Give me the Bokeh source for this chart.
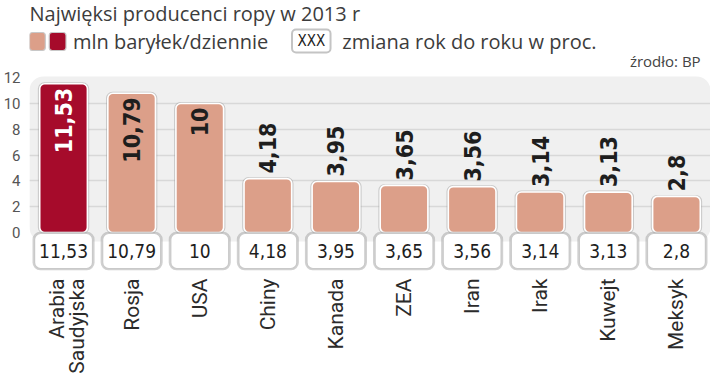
import math
from bokeh.plotting import figure
from bokeh.models import ColumnDataSource, FactorRange, Range1d, FixedTicker
from bokeh.core.properties import value
from bokeh.embed import file_html
from bokeh.resources import INLINE

# ---- data ----
countries = ["Arabia\nSaudyjska", "Rosja", "USA", "Chiny", "Kanada", "ZEA",
             "Iran", "Irak", "Kuwejt", "Meksyk"]
production = [11.53, 10.79, 10, 4.18, 3.95, 3.65, 3.56, 3.14, 3.13, 2.8]
y_ticks = [0, 2, 4, 6, 8, 10, 12]
title_text = "Najwięksi producenci ropy w 2013 r"
legend_unit = "mln baryłek/dziennie"
legend_change = "zmiana rok do roku w proc."
legend_box = "XXX"
source_text = "źrodło: BP"

# ---- style ----
SALMON = "#dc9f89"
RED = "#a60b2b"
PANEL = "#f0f0f0"
GRID = "#d8d8d8"
NARROW = "'Liberation Sans Narrow', 'DejaVu Sans Condensed', sans-serif"
SANS = "Roboto"
HEAD = "Open Sans"

W, H = 710, 374
TOP = 0.0            # page y of figure top (as observed)
FL = 28.0            # page x of frame left
SP = (718 - FL) / 10 # px per category
K = 12.9             # px per value unit
Y0 = 232.0           # page y of value 0

def dx(px):
    return (px - FL) / SP

def dy(py):
    return (Y0 - py) / K

ymax = dy(TOP)
ymin = ymax - H / K

p = figure(width=W, height=H, output_backend="svg", toolbar_location=None,
           x_range=FactorRange(*countries, range_padding=0),
           y_range=Range1d(ymin, ymax), x_axis_location=None,
           min_border_left=20, min_border_right=0, min_border_top=0,
           min_border_bottom=0, outline_line_color=None)
p.background_fill_color = "white"

# y axis
p.yaxis.ticker = FixedTicker(ticks=y_ticks)
p.yaxis.axis_line_color = None
p.yaxis.major_tick_line_color = None
p.yaxis.minor_tick_line_color = None
p.yaxis.major_label_standoff = 3
p.yaxis.major_label_text_font = SANS
p.yaxis.major_label_text_font_size = "15px"
p.yaxis.major_label_text_color = "#555555"
p.xgrid.grid_line_color = None
p.ygrid.ticker = FixedTicker(ticks=[t for t in y_ticks if 0 < t < max(y_ticks)])
p.ygrid.grid_line_color = GRID
p.ygrid.grid_line_width = 1.5

# panel
p.quad(left=0.0, right=10.0, bottom=dy(241), top=max(y_ticks) + 0.1,
       fill_color=PANEL, line_color=None, border_radius=14, level="image")

# bars
n = len(countries)
colors = [RED if i == 0 else SALMON for i in range(n)]
src = ColumnDataSource(dict(x=countries, top=production, color=colors))
p.vbar(x="x", top="top", bottom=0, width=0.71, source=src, fill_color=None,
       line_color="#9a9a9a", line_alpha=0.45, line_width=3, border_radius=5)
p.vbar(x="x", top="top", bottom=0, width=0.70, source=src, fill_color="color",
       line_color="white", line_width=1.6, border_radius=5)

# value labels on bars
fmt = [f"{v:g}".replace(".", ",") for v in production]
inside = [i for i, v in enumerate(production) if v >= 9]
outside = [i for i, v in enumerate(production) if v < 9]
src_in = ColumnDataSource(dict(
    x=[countries[i] for i in inside],
    y=[production[i] - 4 / K for i in inside],
    t=[fmt[i] for i in inside],
    c=["white" if i == 0 else "#1e1e1e" for i in inside]))
p.text(x="x", y="y", text="t", source=src_in, angle=math.pi / 2,
       text_align="right", text_baseline="middle", text_color="c",
       text_font=value(NARROW), text_font_style="bold", text_font_size="23px")
src_out = ColumnDataSource(dict(
    x=[countries[i] for i in outside],
    y=[production[i] + 5 / K for i in outside],
    t=[fmt[i] for i in outside]))
p.text(x="x", y="y", text="t", source=src_out, angle=math.pi / 2,
       text_align="left", text_baseline="middle", text_color="#1e1e1e",
       text_font=value(NARROW), text_font_style="bold", text_font_size="23px")

# boxes under bars
p.vbar(x=countries, top=dy(233), bottom=dy(268), width=0.86, fill_color=None,
       line_color="#9a9a9a", line_alpha=0.45, line_width=3.5, border_radius=6)
p.vbar(x=countries, top=dy(233), bottom=dy(268), width=0.85, fill_color="white",
       line_color="#c9c9c9", line_width=1.2, border_radius=6)
p.text(x=countries, y=[dy(250.5)] * n, text=fmt, text_align="center",
       text_baseline="middle", text_color="#1e1e1e",
       text_font=value(NARROW), text_font_size="19px")

# country labels (rotated)
lx, lt, lo = [], [], []
for c in countries:
    parts = c.split("\n")
    m = len(parts)
    for j, part in enumerate(parts):
        lx.append(c)
        lt.append(part)
        lo.append(20 * j - 6.5 * (m - 1))
p.text(x=lx, y=[dy(278)] * len(lx), text=lt, x_offset=lo, angle=math.pi / 2,
       text_align="right", text_baseline="alphabetic", text_color="#2b2b2b",
       text_font=value(SANS), text_font_size="21px")

# title, legend, source
p.text(x=[dx(28)], y=[dy(12.5)], text=[title_text], text_align="left",
       text_baseline="middle", text_color="#3c3c3c",
       text_font=value(HEAD), text_font_size="20px")
p.quad(left=[dx(28), dx(48)], right=[dx(44), dx(65)], bottom=dy(50), top=dy(32),
       fill_color=[SALMON, RED], line_color="#c8c8c8", line_width=1.2,
       border_radius=3)
p.text(x=[dx(72)], y=[dy(40.5)], text=[legend_unit], text_align="left",
       text_baseline="middle", text_color="#3c3c3c",
       text_font=value(HEAD), text_font_size="20px")
p.quad(left=dx(294), right=dx(333), bottom=dy(52), top=dy(29),
       fill_color="white", line_color="#c4c4c4", line_width=2, border_radius=4)
p.text(x=[dx(313.5)], y=[dy(40.5)], text=[legend_box], text_align="center",
       text_baseline="middle", text_color="#222222",
       text_font=value(NARROW), text_font_size="15px")
p.text(x=[dx(345)], y=[dy(40.5)], text=[legend_change], text_align="left",
       text_baseline="middle", text_color="#3c3c3c",
       text_font=value(HEAD), text_font_size="20px")
p.text(x=[dx(708)], y=[dy(60)], text=[source_text], text_align="right",
       text_baseline="middle", text_color="#444444",
       text_font=value(HEAD), text_font_size="15px")

open("out.html", "w").write(file_html(p, INLINE))
